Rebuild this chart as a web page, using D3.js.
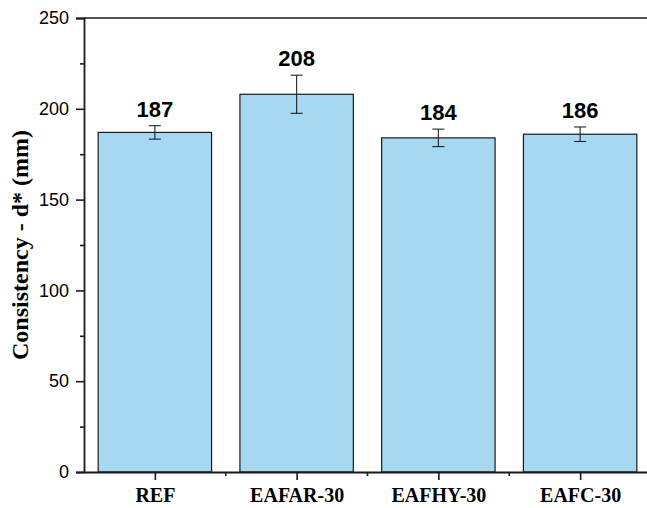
<!DOCTYPE html>
<html>
<head>
<meta charset="utf-8">
<script src="https://cdn.jsdelivr.net/npm/d3@7"></script>
<style>
  html, body { margin: 0; padding: 0; background: #fff; }
  svg { display: block; }
</style>
</head>
<body>
<svg id="chart" width="647" height="508"></svg>
<script>
// Consistency (flow table spread) for each mix
const categories = ["REF", "EAFAR-30", "EAFHY-30", "EAFC-30"];
const values = [187, 208, 184, 186];
const errors = [3.7, 10.5, 4.8, 4.0];
const yTicks = [0, 50, 100, 150, 200, 250];
const yMinorTicks = [25, 75, 125, 175, 225];

const W = 647, H = 508;
const margin = { left: 84, top: 18, bottom: 36 };
const plotW = 567;            // frame continues past the right edge
const svg = d3.select("#chart");

const x = d3.scaleBand()
  .domain(categories)
  .range([margin.left, margin.left + plotW])
  .paddingInner(0.2)
  .paddingOuter(0.1);

const y = d3.scaleLinear()
  .domain([0, 250])
  .range([H - margin.bottom, margin.top]);

const xBand = d3.scalePoint()
  .domain(categories)
  .range([margin.left, margin.left + plotW])
  .padding(0.5);

// bars
svg.append("g").selectAll("rect")
  .data(categories)
  .join("rect")
  .attr("x", d => x(d))
  .attr("y", (d, i) => y(values[i]))
  .attr("width", x.bandwidth())
  .attr("height", (d, i) => y(0) - y(values[i]))
  .attr("fill", "#a6d8f2")
  .attr("stroke", "#1a1a1a")
  .attr("stroke-width", 1.2);

// error bars
const eb = svg.append("g").attr("stroke", "#222").attr("stroke-width", 1.1);
categories.forEach((c, i) => {
  const cx = x(c) + x.bandwidth() / 2;
  const hi = y(values[i] + errors[i]), lo = y(values[i] - errors[i]);
  eb.append("line").attr("x1", cx).attr("x2", cx).attr("y1", hi).attr("y2", lo);
  eb.append("line").attr("x1", cx - 6).attr("x2", cx + 6).attr("y1", hi).attr("y2", hi);
  eb.append("line").attr("x1", cx - 6).attr("x2", cx + 6).attr("y1", lo).attr("y2", lo);
});

// value labels
svg.append("g").selectAll("text")
  .data(categories)
  .join("text")
  .attr("x", d => x(d) + x.bandwidth() / 2)
  .attr("y", (d, i) => y(values[i] + errors[i]) - 9)
  .attr("text-anchor", "middle")
  .attr("font-family", "Liberation Sans, Arial, sans-serif")
  .attr("font-weight", "bold")
  .attr("font-size", 22)
  .attr("fill", "#000")
  .text((d, i) => values[i]);

// frame top
svg.append("line")
  .attr("x1", margin.left).attr("x2", margin.left + plotW)
  .attr("y1", y(250)).attr("y2", y(250))
  .attr("stroke", "#1a1a1a").attr("stroke-width", 1.6);

// y axis
const yAxis = svg.append("g")
  .attr("transform", `translate(${margin.left},0)`)
  .call(d3.axisLeft(y).tickValues(yTicks).tickSize(8).tickPadding(7));
svg.append("g")
  .attr("transform", `translate(${margin.left},0)`)
  .call(d3.axisLeft(y).tickValues(yMinorTicks).tickSize(4).tickFormat(""))
  .call(g => g.select(".domain").remove());

// x axis
const xAxis = svg.append("g")
  .attr("transform", `translate(0,${y(0)})`)
  .call(d3.axisBottom(xBand).tickSize(8).tickPadding(8).tickSizeOuter(0));
const boundaries = categories.map((c, i) => margin.left + (i + 1) * plotW / categories.length);
svg.append("g").selectAll("line")
  .data(boundaries)
  .join("line")
  .attr("x1", d => d).attr("x2", d => d)
  .attr("y1", y(0)).attr("y2", y(0) + 4)
  .attr("stroke", "#1a1a1a").attr("stroke-width", 1.6);

svg.selectAll(".domain").attr("stroke", "#1a1a1a").attr("stroke-width", 1.8);
svg.selectAll(".tick line").attr("stroke", "#1a1a1a").attr("stroke-width", 1.6);
yAxis.selectAll(".tick text")
  .attr("font-family", "Liberation Sans, Arial, sans-serif")
  .attr("font-size", 18).attr("fill", "#000");
xAxis.selectAll(".tick text")
  .attr("font-family", "Liberation Serif, Times New Roman, serif")
  .attr("font-weight", "bold")
  .attr("font-size", 20).attr("fill", "#000");

// y title
svg.append("text")
  .attr("transform", `translate(28,${(y(0) + y(250)) / 2}) rotate(-90)`)
  .attr("text-anchor", "middle")
  .attr("font-family", "Liberation Serif, Times New Roman, serif")
  .attr("font-weight", "bold")
  .attr("font-size", 24)
  .attr("fill", "#000")
  .text("Consistency - d* (mm)");
</script>
</body>
</html>
